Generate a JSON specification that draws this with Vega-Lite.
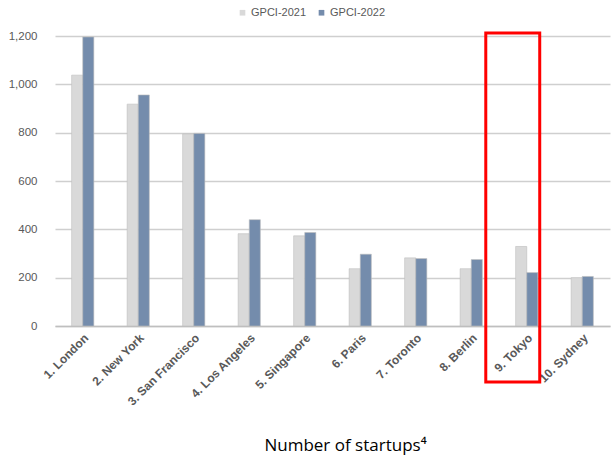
{
  "$schema": "https://vega.github.io/schema/vega-lite/v6.json",
  "autosize": {"type": "none"},
  "padding": {"left": 55, "top": 36, "right": 1, "bottom": 131},
  "width": 555,
  "height": 290,
  "background": "white",
  "config": {
    "view": {"stroke": null},
    "font": "Liberation Sans"
  },
  "datasets": {
    "bars": [
      {"city": "1. London", "series": "GPCI-2021", "value": 1038},
      {"city": "1. London", "series": "GPCI-2022", "value": 1196},
      {"city": "2. New York", "series": "GPCI-2021", "value": 918},
      {"city": "2. New York", "series": "GPCI-2022", "value": 956},
      {"city": "3. San Francisco", "series": "GPCI-2021", "value": 795},
      {"city": "3. San Francisco", "series": "GPCI-2022", "value": 797},
      {"city": "4. Los Angeles", "series": "GPCI-2021", "value": 382},
      {"city": "4. Los Angeles", "series": "GPCI-2022", "value": 440},
      {"city": "5. Singapore", "series": "GPCI-2021", "value": 373},
      {"city": "5. Singapore", "series": "GPCI-2022", "value": 387},
      {"city": "6. Paris", "series": "GPCI-2021", "value": 237},
      {"city": "6. Paris", "series": "GPCI-2022", "value": 297},
      {"city": "7. Toronto", "series": "GPCI-2021", "value": 282},
      {"city": "7. Toronto", "series": "GPCI-2022", "value": 279},
      {"city": "8. Berlin", "series": "GPCI-2021", "value": 237},
      {"city": "8. Berlin", "series": "GPCI-2022", "value": 275},
      {"city": "9. Tokyo", "series": "GPCI-2021", "value": 329},
      {"city": "9. Tokyo", "series": "GPCI-2022", "value": 221},
      {"city": "10. Sydney", "series": "GPCI-2021", "value": 200},
      {"city": "10. Sydney", "series": "GPCI-2022", "value": 205}
    ],
    "highlight": [
      {"city": "9. Tokyo", "top": 1212, "bottom": -232}
    ]
  },
  "layer": [
    {
      "data": {"name": "bars"},
      "mark": {"type": "bar", "stroke": "#bdbdbd", "strokeWidth": 0.6},
      "encoding": {
        "x": {
          "field": "city",
          "type": "nominal",
          "sort": null,
          "scale": {"paddingInner": 0.6, "paddingOuter": 0.3},
          "axis": {
            "labelAngle": -45,
            "labelFontSize": 12,
            "labelFontWeight": "bold",
            "labelColor": "#595959",
            "labelPadding": 6,
            "ticks": false,
            "domainColor": "#bfbfbf",
            "domainWidth": 1.5,
            "title": "Number of startups⁴",
            "titleFont": "Open Sans",
            "titleFontSize": 17,
            "titleFontWeight": "normal",
            "titleColor": "#000000",
            "titleX": 290,
            "titleY": 124,
            "titleAlign": "center",
            "titleBaseline": "alphabetic"
          }
        },
        "xOffset": {
          "field": "series",
          "type": "nominal"
        },
        "y": {
          "field": "value",
          "type": "quantitative",
          "scale": {"domain": [0, 1200], "nice": false},
          "axis": {
            "values": [0, 200, 400, 600, 800, 1000, 1200],
            "format": ",d",
            "title": null,
            "domain": false,
            "ticks": false,
            "labelPadding": 18,
            "labelFontSize": 11.5,
            "labelColor": "#595959",
            "gridColor": "#cfcfcf",
            "gridWidth": 1.5
          }
        },
        "color": {
          "field": "series",
          "type": "nominal",
          "scale": {"domain": ["GPCI-2021", "GPCI-2022"], "range": ["#d9d9d9", "#748cac"]},
          "legend": {
            "title": null,
            "orient": "none",
            "direction": "horizontal",
            "legendX": 182,
            "legendY": -29,
            "symbolType": "square",
            "symbolSize": 32,
            "symbolStrokeWidth": 0,
            "labelFontSize": 11,
            "labelColor": "#595959",
            "columnPadding": 9,
            "labelOffset": 3
          }
        }
      }
    },
    {
      "data": {"name": "highlight"},
      "mark": {"type": "rect", "fill": null, "stroke": "#ff0000", "strokeWidth": 3, "width": {"band": 2.43}, "xOffset": -14},
      "encoding": {
        "x": {"field": "city", "type": "nominal", "sort": null},
        "y": {"field": "top", "type": "quantitative"},
        "y2": {"field": "bottom"}
      }
    }
  ]
}
